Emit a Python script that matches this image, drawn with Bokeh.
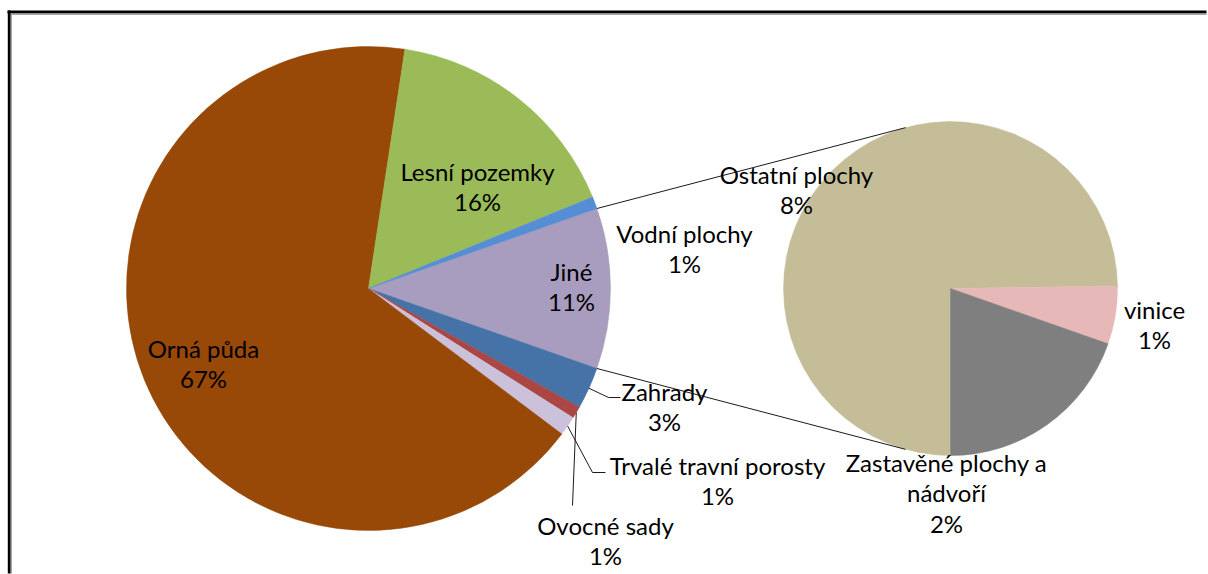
import numpy as np
from bokeh.plotting import figure
from bokeh.models import ColumnDataSource, Range1d
from bokeh.core.properties import value
from bokeh.embed import file_html
from bokeh.resources import INLINE

# ---------------- data ----------------
# main pie slices, clockwise after the "Jiné" slice
main_names = ["Zahrady", "Ovocné sady", "Trvalé travní porosty", "Orná půda", "Lesní pozemky", "Vodní plochy"]
main_values = [2.8, 0.8, 1.3, 67.0, 16.4, 0.8]
main_colors = ["#4572A7", "#AA4643", "#CCC1DA", "#984807", "#9BBB59", "#558ED5"]

other_name = "Jiné"
other_color = "#A99DBF"

# secondary pie (breakdown of "Jiné"), clockwise starting at 6 o'clock
sec_names = ["Ostatní plochy", "vinice", "Zastavěné plochy a\nnádvoří"]
sec_values = [8.0, 0.6, 2.1]
sec_colors = ["#C4BD97", "#E6B9B8", "#7F7F7F"]

# ---------------- layout (screen pixels) ----------------
W, H = 1208, 574
def X(px): return px
def Y(py): return H - py

MAIN_C = (368, 288); MAIN_R = 242
SEC_C = (950, 288); SEC_R = 167
SEC_START = 180.0          # clockwise from 12 o'clock
CONN_ANG = 15.6            # connector attach angle on secondary pie

FONT = "Lato"
FSIZE = "24px"
LINE_H = 30.5
DY = -2.5

label_pos = {
    "Orná půda": (203, 350),
    "Lesní pozemky": (477, 173),
    "Vodní plochy": (684, 235),
    "Jiné": (571, 273),
    "Zahrady": (664, 393),
    "Ovocné sady": (605, 527),
    "Trvalé travní porosty": (717, 467),
    "Ostatní plochy": (796, 176),
    "Zastavěné plochy a\nnádvoří": (946, 464),
    "vinice": (1154, 311),
}
# leader elbows: (elbow, end)
leaders = {
    "Zahrady": [(608, 397), (620, 397)],
    "Trvalé travní porosty": [(592, 472), (605, 472)],
    "Ovocné sady": [(572, 505)],
}

def pt(center, r, c_deg):
    c = np.deg2rad(c_deg)
    return (center[0] + r * np.sin(c), center[1] - r * np.cos(c))

p = figure(width=W, height=H, x_range=Range1d(0, W), y_range=Range1d(0, H),
           output_backend="svg", toolbar_location=None, min_border=0,
           x_axis_type=None, y_axis_type=None)
p.grid.visible = False
p.outline_line_color = None
p.outline_line_alpha = 0
p.background_fill_color = "white"
p.border_fill_color = "white"

# ---------------- frame border (top and left) ----------------
p.segment(x0=[X(7), X(10)], y0=[Y(11.5), Y(13.8)], x1=[X(W - 2), X(W - 2)], y1=[Y(11.5), Y(13.8)],
          line_color=["black", "#a6a6a6"], line_width=[3, 1.5])
p.segment(x0=[X(8.8), X(10.8)], y0=[Y(10), Y(13)], x1=[X(8.8), X(10.8)], y1=[Y(H - 1), Y(H - 1)],
          line_color=["black", "#a6a6a6"], line_width=[3, 1.5])

# ---------------- main pie ----------------
other_value = sum(sec_values)
total = sum(main_values) + other_value
names_all = [other_name] + main_names
vals_all = [other_value] + main_values
cols_all = [other_color] + main_colors
spans = np.array(vals_all) / total * 360.0
c0 = 90.0 - spans[0] / 2.0
starts_c = c0 + np.concatenate([[0], np.cumsum(spans)[:-1]])
ends_c = starts_c + spans
mids_c = (starts_c + ends_c) / 2

src_main = ColumnDataSource(dict(
    x=[X(MAIN_C[0])] * len(vals_all), y=[Y(MAIN_C[1])] * len(vals_all),
    start=np.deg2rad(90.0 - starts_c), end=np.deg2rad(90.0 - ends_c),
    color=cols_all))
p.wedge(x="x", y="y", radius=MAIN_R, start_angle="start", end_angle="end",
        direction="clock", fill_color="color", line_color="color", line_width=0.5,
        source=src_main)

# ---------------- secondary pie ----------------
sspans = np.array(sec_values) / other_value * 360.0
sstarts = SEC_START + np.concatenate([[0], np.cumsum(sspans)[:-1]])
sends = sstarts + sspans
src_sec = ColumnDataSource(dict(
    x=[X(SEC_C[0])] * len(sec_values), y=[Y(SEC_C[1])] * len(sec_values),
    start=np.deg2rad(90.0 - sstarts), end=np.deg2rad(90.0 - sends),
    color=sec_colors))
p.wedge(x="x", y="y", radius=SEC_R, start_angle="start", end_angle="end",
        direction="clock", fill_color="color", line_color="color", line_width=0.5,
        source=src_sec)

# ---------------- connector lines ----------------
a1 = pt(MAIN_C, MAIN_R, starts_c[0]); b1 = pt(SEC_C, SEC_R, 360 - CONN_ANG)
a2 = pt(MAIN_C, MAIN_R, ends_c[0]);   b2 = pt(SEC_C, SEC_R, 180 + CONN_ANG)
p.multi_line(xs=[[X(a1[0]), X(b1[0])], [X(a2[0]), X(b2[0])]],
             ys=[[Y(a1[1]), Y(b1[1])], [Y(a2[1]), Y(b2[1])]],
             line_color="#1a1a1a", line_width=1)

# ---------------- leader lines ----------------
lx, ly = [], []
for i, n in enumerate(names_all):
    if n in leaders:
        s = pt(MAIN_C, MAIN_R, mids_c[i])
        pts = [s] + leaders[n]
        lx.append([X(q[0]) for q in pts]); ly.append([Y(q[1]) for q in pts])
p.multi_line(xs=lx, ys=ly, line_color="#1a1a1a", line_width=1)

# ---------------- labels ----------------
tx, ty, tt = [], [], []
all_names = names_all + sec_names
all_vals = vals_all + sec_values
for n, v in zip(all_names, all_vals):
    lines = n.split("\n") + ["%d%%" % int(round(v / total * 100))]
    cx, cy = label_pos[n]
    for k, line in enumerate(lines):
        tx.append(X(cx)); ty.append(Y(cy + DY + k * LINE_H)); tt.append(line)
p.text(x=tx, y=ty, text=tt, text_font=value(FONT), text_font_size=FSIZE,
       text_align="center", text_baseline="middle", text_color="#000000")

open("out.html", "w").write(file_html(p, INLINE))
